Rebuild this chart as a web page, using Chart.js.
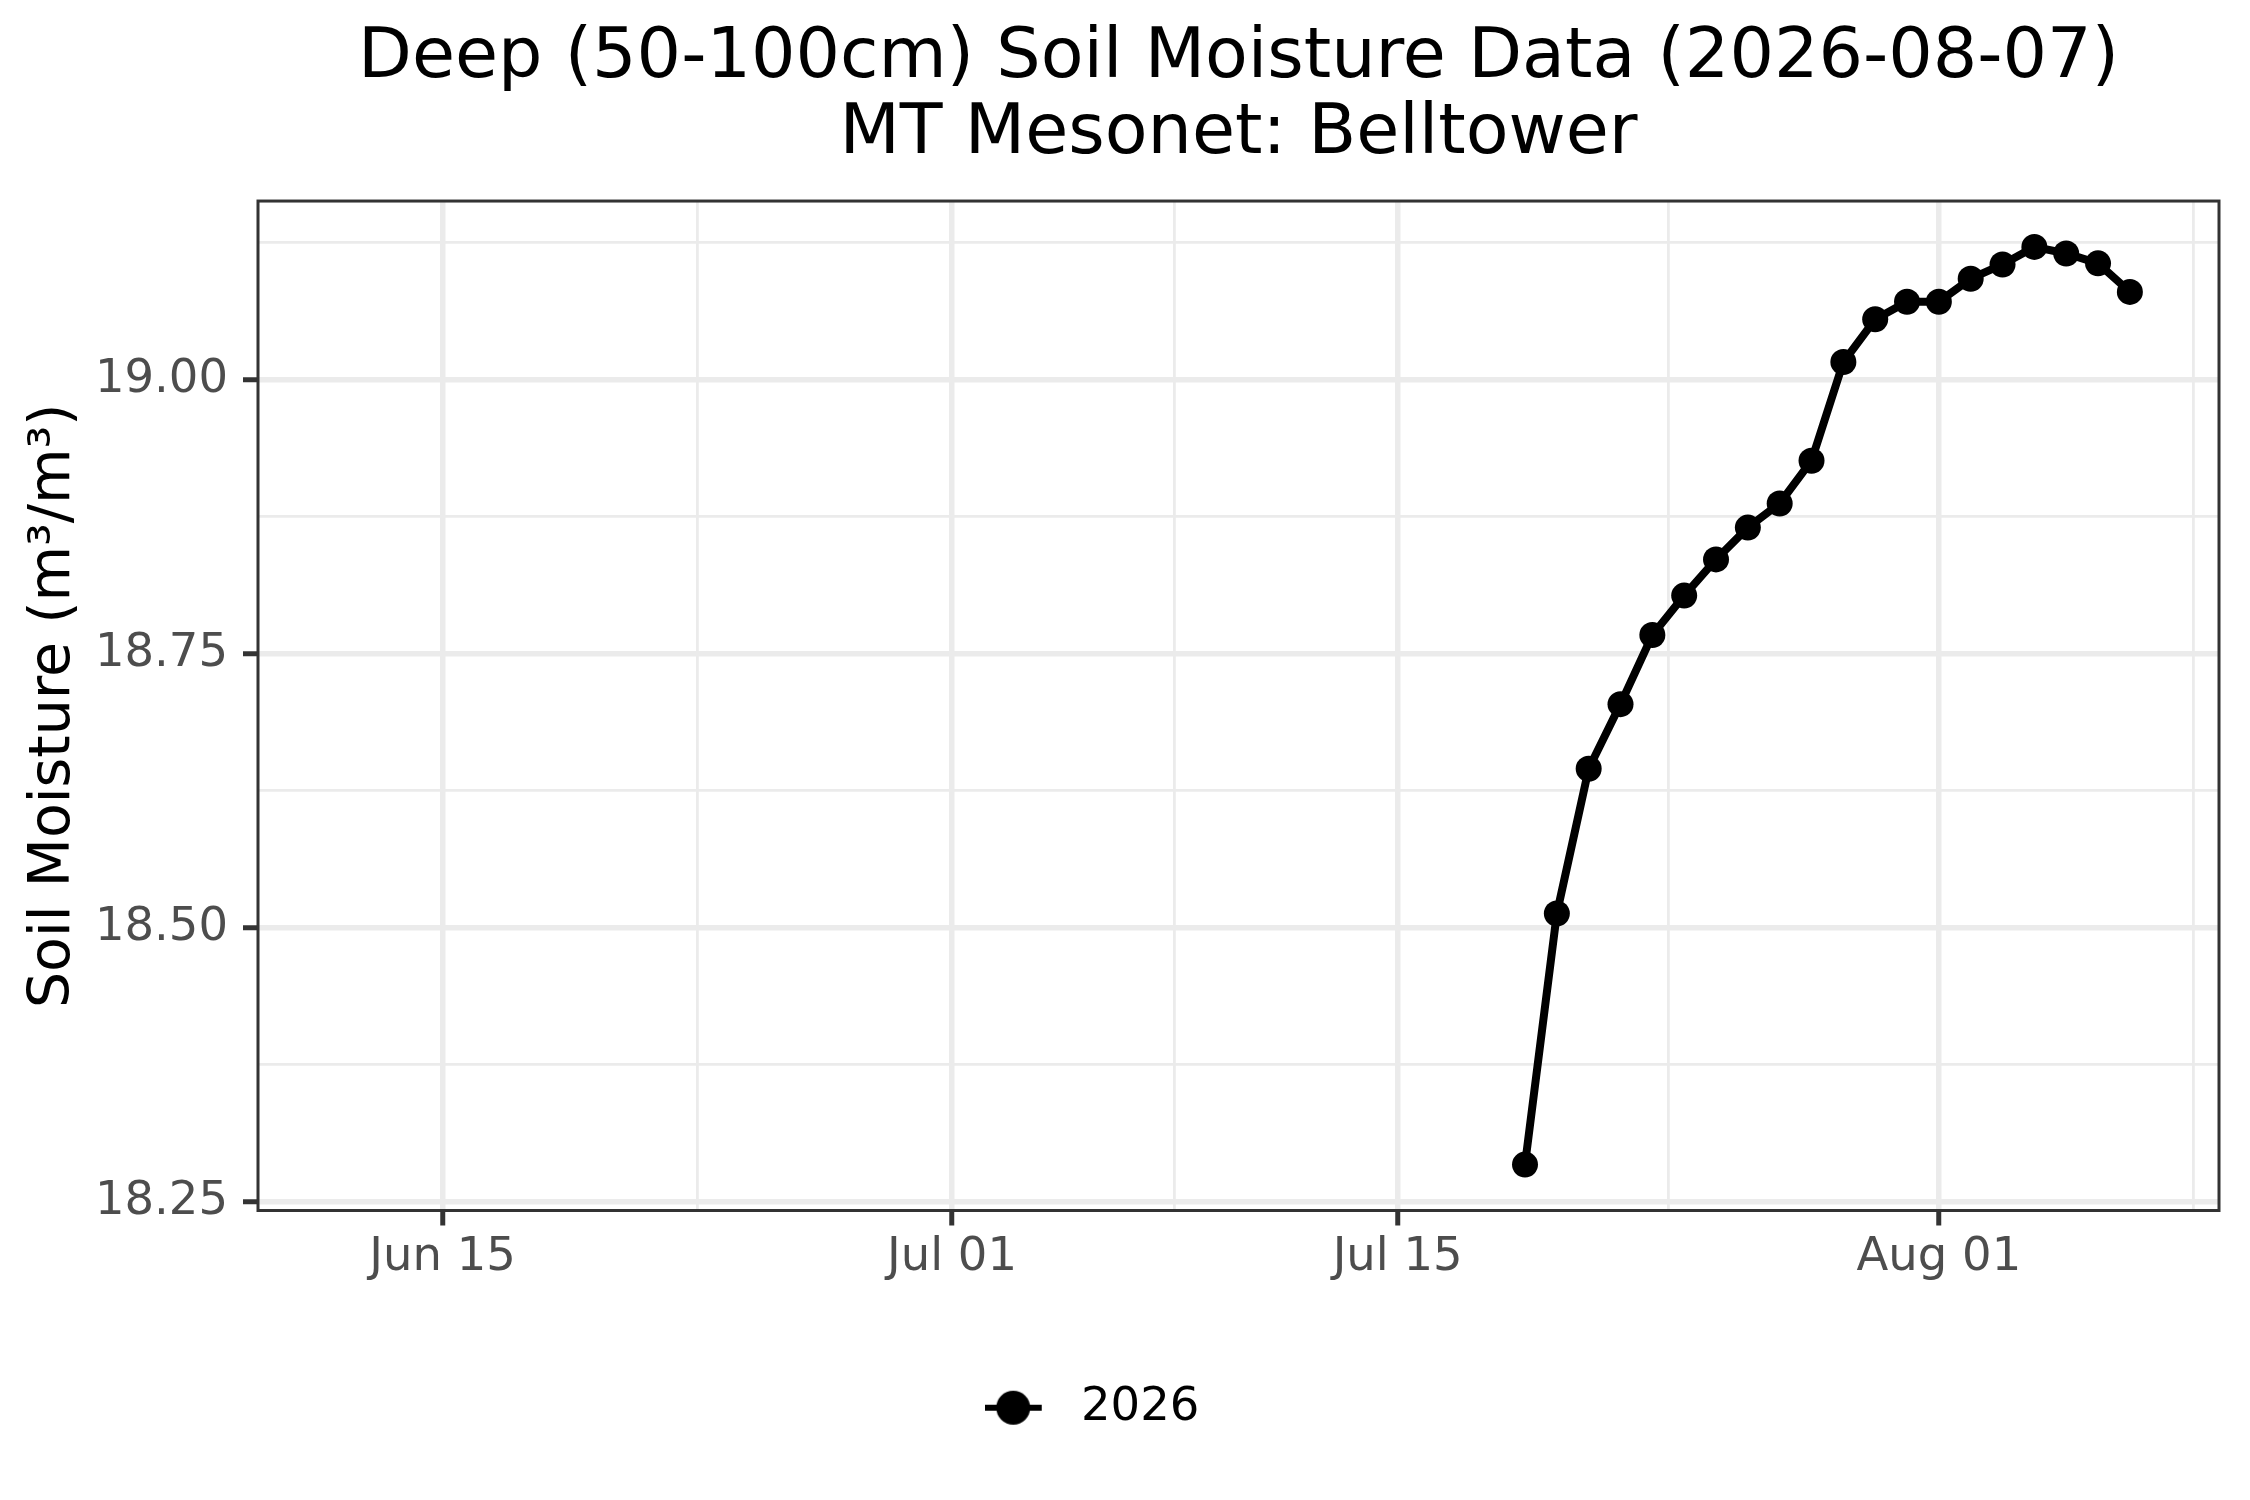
<!DOCTYPE html>
<html>
<head>
<meta charset="utf-8">
<script src="https://cdn.jsdelivr.net/npm/chart.js@4"></script>
<style>
  html, body { margin: 0; padding: 0; background: #ffffff; }
  #wrap { width: 2250px; height: 1500px; }
</style>
</head>
<body>
<div id="wrap"><canvas id="moistureChart" width="2250" height="1500"></canvas></div>
<script>
// Chart data
const titleLines = ['Deep (50-100cm) Soil Moisture Data (2026-08-07)', 'MT Mesonet: Belltower'];
const yAxisTitle = 'Soil Moisture (m³/m³)';
const seriesLabel = '2026';

const dates = [
    '2026-07-19', '2026-07-20', '2026-07-21', '2026-07-22', '2026-07-23',
    '2026-07-24', '2026-07-25', '2026-07-26', '2026-07-27', '2026-07-28',
    '2026-07-29', '2026-07-30', '2026-07-31', '2026-08-01', '2026-08-02',
    '2026-08-03', '2026-08-04', '2026-08-05', '2026-08-06', '2026-08-07'
];
const moisture = [
    18.284, 18.513, 18.645, 18.704, 18.767,
    18.803, 18.836, 18.865, 18.887, 18.926,
    19.016, 19.055, 19.071, 19.071, 19.092,
    19.105, 19.121, 19.115, 19.106, 19.080
];

// x axis: shown window, labelled ticks and minor grid lines
const xWindow = ['2026-06-12', '2026-08-07'];
const xTickDates = ['2026-06-15', '2026-07-01', '2026-07-15', '2026-08-01'];
const xTickLabels = ['Jun 15', 'Jul 01', 'Jul 15', 'Aug 01'];
const xMinorDates = ['2026-06-23', '2026-07-08', '2026-07-23T12:00:00Z', '2026-08-09'];

// y axis ticks
const yTicks = [18.25, 18.50, 18.75, 19.00];
const yMinorTicks = [18.375, 18.625, 18.875, 19.125];

// helpers
function dayNum(s) {
    const iso = s.length === 10 ? s + 'T00:00:00Z' : s;
    return Date.parse(iso) / 86400000;
}
const xMajor = xTickDates.map(dayNum);
const xMinor = xMinorDates.map(dayNum);

// ggplot style 5% expansion
const xLo = dayNum(xWindow[0]), xHi = dayNum(xWindow[1]);
const xPad = (xHi - xLo) * 0.05;
const yLo = Math.min(...moisture), yHi = Math.max(...moisture);
const yPad = (yHi - yLo) * 0.05;

const isMajor = (list, v) => list.some(m => Math.abs(m - v) < 1e-6);

const GRID = '#ebebeb';
const INK = '#333333';
const TICK_TEXT = '#4d4d4d';

Chart.defaults.font.family = "'DejaVu Sans', sans-serif";

// legend key: short line with a dot
const keyCanvas = document.createElement('canvas');
keyCanvas.width = 73;
keyCanvas.height = 40;
const kc = keyCanvas.getContext('2d');
kc.strokeStyle = '#000';
kc.lineWidth = 6;
kc.beginPath();
kc.moveTo(0, 20);
kc.lineTo(57, 20);
kc.stroke();
kc.fillStyle = '#000';
kc.beginPath();
kc.arc(28.5, 20, 17, 0, Math.PI * 2);
kc.fill();

// panel border + legend nudge
const panelBorder = {
    id: 'panelBorder',
    afterLayout(chart) {
        if (chart.legend) chart.legend.right -= 35;
    },
    afterDatasetsDraw(chart) {
        const a = chart.chartArea;
        const ctx = chart.ctx;
        ctx.save();
        ctx.strokeStyle = INK;
        ctx.lineWidth = 3;
        ctx.strokeRect(a.left, a.top, a.right - a.left, a.bottom - a.top);
        ctx.restore();
    }
};

const ctxMoisture = document.getElementById('moistureChart').getContext('2d');
const moistureChart = new Chart(ctxMoisture, {
    type: 'line',
    data: {
        datasets: [{
            label: seriesLabel,
            data: dates.map((d, i) => ({ x: dayNum(d), y: moisture[i] })),
            borderColor: '#000000',
            backgroundColor: '#000000',
            borderWidth: 8,
            pointRadius: 13,
            pointBorderWidth: 0,
            pointBackgroundColor: '#000000',
            tension: 0
        }]
    },
    options: {
        responsive: false,
        animation: false,
        devicePixelRatio: 1,
        layout: { padding: { left: 0, right: 31, top: 0, bottom: 59 } },
        plugins: {
            title: {
                display: true,
                text: titleLines,
                color: '#000000',
                fullSize: false,
                font: { size: 70, weight: 'normal', lineHeight: 1.086 },
                padding: { top: 21, bottom: 28 }
            },
            legend: {
                display: true,
                position: 'bottom',
                labels: {
                    color: '#000000',
                    font: { size: 46.5 },
                    usePointStyle: true,
                    pointStyleWidth: 73,
                    padding: 10,
                    generateLabels: () => [{
                        text: seriesLabel,
                        pointStyle: keyCanvas,
                        fillStyle: '#000',
                        strokeStyle: '#000',
                        lineWidth: 0,
                        datasetIndex: 0
                    }]
                }
            },
            tooltip: { enabled: false }
        },
        scales: {
            x: {
                type: 'linear',
                min: xLo - xPad,
                max: xHi + xPad,
                afterBuildTicks: (scale) => {
                    scale.ticks = [...xMajor, ...xMinor].sort((a, b) => a - b).map(v => ({ value: v }));
                },
                afterFit: (scale) => { scale.height = 164; },
                ticks: {
                    autoSkip: false,
                    maxRotation: 0,
                    color: TICK_TEXT,
                    font: { size: 46.5 },
                    padding: 5,
                    callback: (value) => {
                        const i = xMajor.findIndex(m => Math.abs(m - value) < 1e-6);
                        return i >= 0 ? xTickLabels[i] : '';
                    }
                },
                grid: {
                    color: GRID,
                    lineWidth: (c) => isMajor(xMajor, c.tick.value) ? 5.5 : 2.8,
                    tickColor: (c) => isMajor(xMajor, c.tick.value) ? INK : 'rgba(0,0,0,0)',
                    tickWidth: 5,
                    tickLength: 15
                },
                border: { display: false }
            },
            y: {
                type: 'linear',
                min: yLo - yPad,
                max: yHi + yPad,
                afterBuildTicks: (scale) => {
                    scale.ticks = [...yTicks, ...yMinorTicks].sort((a, b) => a - b).map(v => ({ value: v }));
                },
                afterFit: (scale) => { scale.width = 258; },
                ticks: {
                    autoSkip: false,
                    color: TICK_TEXT,
                    font: { size: 46.5 },
                    padding: 15,
                    callback: (value) => isMajor(yTicks, value) ? value.toFixed(2) : ''
                },
                grid: {
                    color: GRID,
                    lineWidth: (c) => isMajor(yTicks, c.tick.value) ? 5.5 : 2.8,
                    tickColor: (c) => isMajor(yTicks, c.tick.value) ? INK : 'rgba(0,0,0,0)',
                    tickWidth: 5,
                    tickLength: 15
                },
                border: { display: false },
                title: {
                    display: true,
                    text: yAxisTitle,
                    color: '#000000',
                    font: { size: 57 },
                    padding: { top: 20, bottom: 0 }
                }
            }
        }
    },
    plugins: [panelBorder]
});
</script>
</body>
</html>
